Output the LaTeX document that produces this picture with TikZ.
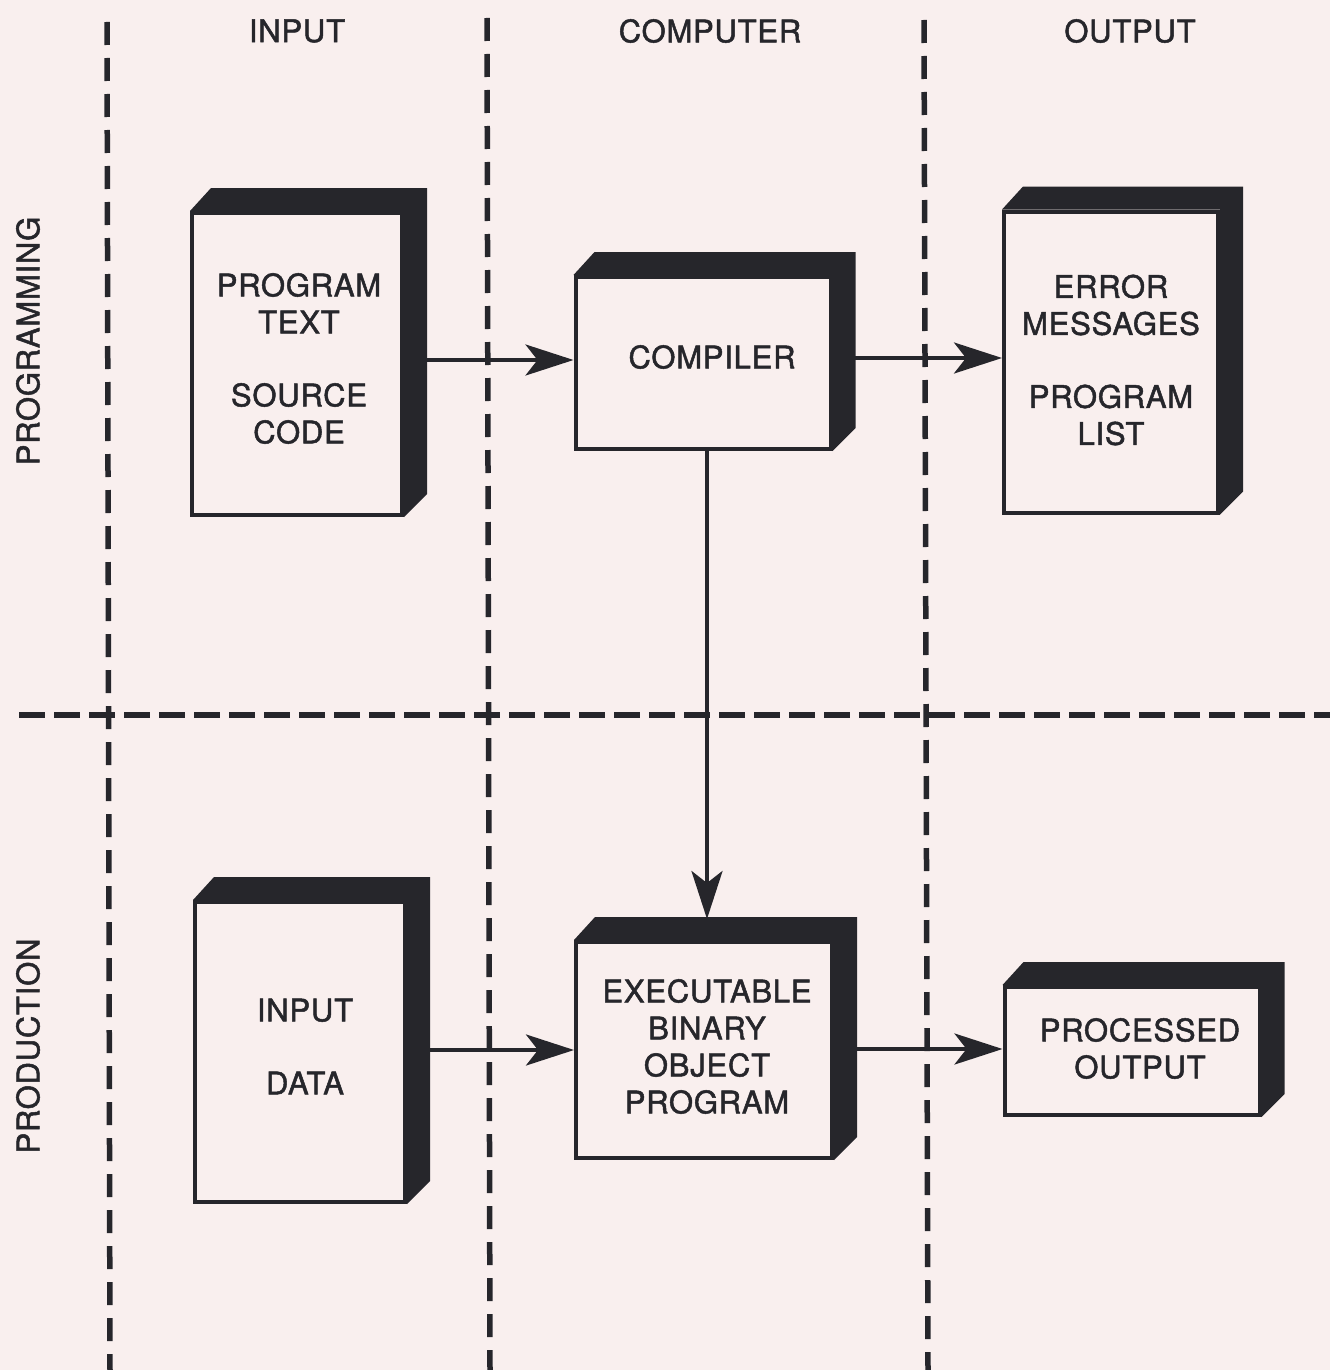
\documentclass[tikz,border=0pt]{standalone}
\usepackage{fontspec}
\setmainfont{TeX Gyre Heros}[FakeBold=1.6,LetterSpace=2.5]
\usetikzlibrary{arrows.meta,calc}
\definecolor{bg}{RGB}{249,239,238}
\definecolor{ink}{RGB}{38,38,43}
\newcommand\drawdepth[1]{\fill[ink] (#1.north west) -- ++(21,-23) -- ($(#1.north east)+(23,-23)$) -- ($(#1.south east)+(23,-23)$) -- (#1.south east) -- (#1.north east) -- cycle;}
\begin{document}
\begin{tikzpicture}[x=1pt,y=-1pt,
  box/.style={draw=ink, line width=4pt, fill=bg, inner sep=0pt},
  txt/.style={align=center, inner sep=0pt, font=\fontsize{31}{37}\selectfont, text=ink},
  hdr/.style={font=\fontsize{31}{37}\selectfont, text=ink, inner sep=0pt},
  vdiv/.style={draw=ink, line width=5.5pt, dash pattern=on 23pt off 13pt},
  hdiv/.style={draw=ink, line width=5.5pt, dash pattern=on 26pt off 9pt},
  arr/.style={draw=ink, line width=3.8pt, -{Stealth[length=48pt,width=31pt,inset=12pt]}}]
\fill[bg] (0,0) rectangle (1330,1370);
\useasboundingbox (0,0) rectangle (1330,1370);
% dividers
\draw[vdiv] (107,22) -- (110,1370);
\draw[vdiv] (487,18) -- (490,1370);
\draw[vdiv] (924,20) -- (928,1370);
\draw[hdiv] (19,715) -- (1330,715);
% headers
\node[hdr] (hin) at (297,31) {INPUT};
\node[hdr] (hcomp) at (710,31) {COMPUTER};
\node[hdr] (hout) at (1130,31) {OUTPUT};
\node[hdr, rotate=90] (rprog) at (28,341) {PROGRAMMING};
\node[hdr, rotate=90] (rprod) at (28,1046) {PRODUCTION};
% boxes
\node[box, minimum width=210pt, minimum height=302pt] (b1) at (297,364) {};
\drawdepth{b1}
\node[txt] (b1t) at (299,358.5) {PROGRAM\\TEXT\\[36pt]SOURCE\\CODE};
\node[box, minimum width=255pt, minimum height=172pt] (b2) at (703,363) {};
\drawdepth{b2}
\node[txt] (b2t) at (712,357) {COMPILER};
\node[box, minimum width=214pt, minimum height=301pt] (b3) at (1111,362) {};
\drawdepth{b3}
\node[txt] (b3t) at (1111,360) {ERROR\\MESSAGES\\[36pt]PROGRAM\\LIST};
\node[box, minimum width=210pt, minimum height=300pt] (b4) at (300,1052) {};
\drawdepth{b4}
\node[txt] (b4t) at (305,1046.5) {INPUT\\[36pt]DATA};
\node[box, minimum width=256pt, minimum height=216pt] (b5) at (704,1050) {};
\drawdepth{b5}
\node[txt] (b5t) at (707,1046.5) {EXECUTABLE\\BINARY\\OBJECT\\PROGRAM};
\node[box, minimum width=255pt, minimum height=128pt] (b6) at (1132,1051) {};
\drawdepth{b6}
\node[txt] (b6t) at (1140,1048.5) {PROCESSED\\OUTPUT};
% connectors
\coordinate (a1s) at ([yshift=4pt]b1.east);
\draw[arr] (a1s) -- (a1s -| b2.west);
\coordinate (a2s) at ([yshift=5pt]b2.east);
\draw[arr] (a2s) -- (a2s -| b3.west);
\coordinate (a3s) at ([xshift=4pt]b2.south);
\coordinate (b5top) at ([yshift=21pt]b5.north);
\draw[arr] (a3s) -- (a3s |- b5top);
\coordinate (a4s) at ([yshift=2pt]b4.east);
\draw[arr] (a4s) -- (a4s -| b5.west);
\coordinate (a5s) at ([yshift=1pt]b5.east);
\draw[arr] (a5s) -- (a5s -| b6.west);
\end{tikzpicture}
\end{document}
